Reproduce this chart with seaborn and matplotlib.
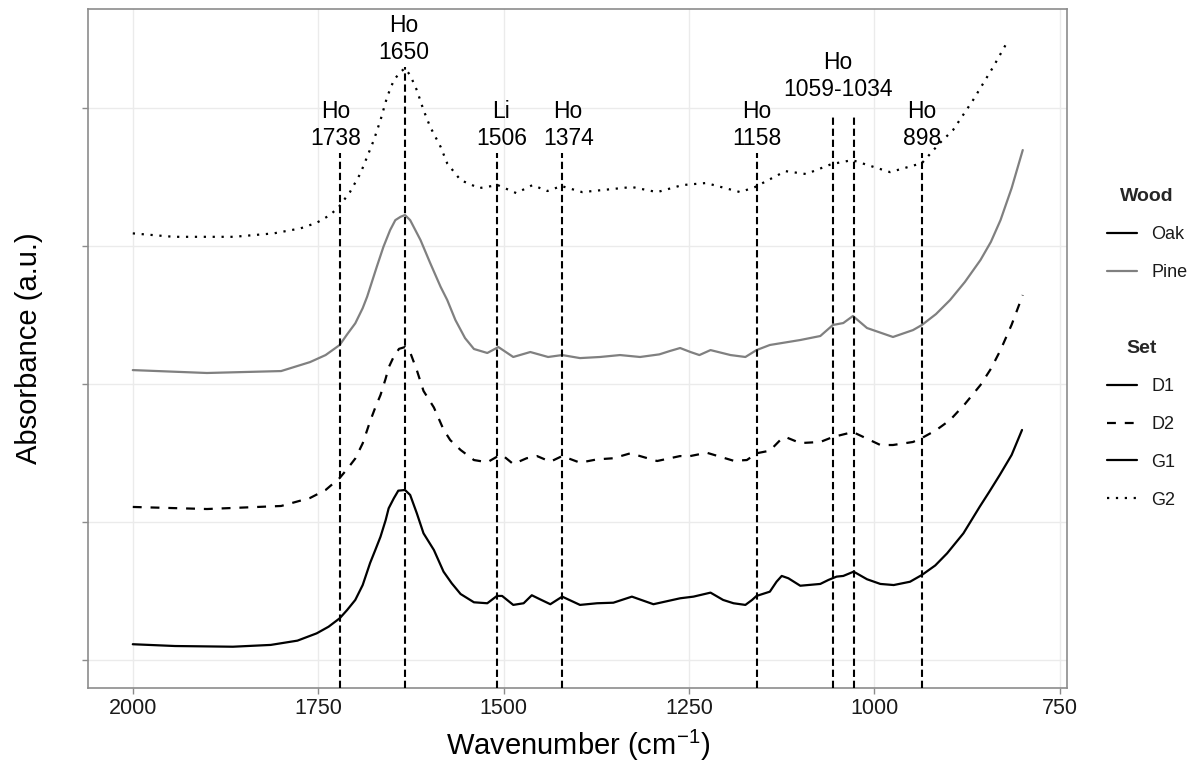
import numpy as np
import pandas as pd
import matplotlib
matplotlib.use("Agg")
import matplotlib.pyplot as plt
import seaborn as sns
from matplotlib.lines import Line2D

# ---------------- data ----------------
# Oak, set D1 (bottom, solid black)
wn_d1 = [2000, 1943, 1865, 1814, 1778, 1752, 1736, 1721, 1711, 1700, 1690, 1680,
         1673, 1666, 1659, 1655, 1648, 1642, 1633, 1626, 1617, 1608, 1594, 1581,
         1570, 1558, 1540, 1522, 1509, 1502, 1487, 1473, 1462, 1451, 1437, 1421,
         1397, 1374, 1352, 1327, 1298, 1262, 1244, 1221, 1204, 1190, 1174, 1165,
         1159, 1141, 1132, 1125, 1116, 1100, 1073, 1062, 1051, 1042, 1028, 1010,
         992, 974, 952, 936, 918, 902, 880, 858, 845, 831, 815, 801]
abs_d1 = [0.114, 0.101, 0.096, 0.109, 0.140, 0.193, 0.241, 0.302, 0.362, 0.435,
          0.543, 0.703, 0.797, 0.893, 1.014, 1.099, 1.172, 1.227, 1.232, 1.196,
          1.063, 0.918, 0.797, 0.640, 0.556, 0.478, 0.418, 0.411, 0.464, 0.464,
          0.399, 0.411, 0.469, 0.440, 0.404, 0.459, 0.399, 0.411, 0.415, 0.459,
          0.404, 0.447, 0.459, 0.488, 0.435, 0.411, 0.399, 0.435, 0.464, 0.495,
          0.567, 0.609, 0.592, 0.538, 0.551, 0.580, 0.604, 0.609, 0.640, 0.585,
          0.551, 0.543, 0.567, 0.616, 0.685, 0.773, 0.918, 1.111, 1.220, 1.341,
          1.486, 1.667]

# Oak, set D2 (dashed black)
wn_d2 = [2000, 1900, 1800, 1761, 1740, 1721, 1710, 1700, 1690, 1680, 1673, 1666,
         1659, 1655, 1648, 1641, 1633, 1626, 1617, 1608, 1594, 1581, 1572, 1558,
         1540, 1522, 1509, 1502, 1487, 1469, 1455, 1437, 1421, 1397, 1374, 1352,
         1329, 1293, 1262, 1253, 1226, 1190, 1172, 1159, 1141, 1127, 1120, 1100,
         1073, 1056, 1029, 992, 975, 948, 936, 917, 898, 878, 857, 843, 830, 815,
         800]
abs_d2 = [1.109, 1.094, 1.116, 1.174, 1.232, 1.319, 1.39, 1.46, 1.57, 1.73,
          1.83, 1.92, 2.04, 2.12, 2.20, 2.255, 2.268, 2.23, 2.10, 1.95,
          1.83, 1.67, 1.594, 1.522, 1.449, 1.433, 1.473, 1.486, 1.420, 1.462,
          1.478, 1.437, 1.478, 1.430, 1.454, 1.462, 1.498, 1.442, 1.478, 1.473,
          1.502, 1.444, 1.449, 1.498, 1.517, 1.594, 1.616, 1.572, 1.580, 1.616,
          1.652, 1.558, 1.558, 1.580, 1.609, 1.665, 1.739, 1.855, 1.993, 2.110,
          2.246, 2.430, 2.645]

# Pine, set G1 (solid grey)
wn_g1 = [2000, 1900, 1800, 1761, 1740, 1721, 1711, 1700, 1690, 1684, 1671, 1662,
         1653, 1646, 1639, 1633, 1626, 1612, 1599, 1585, 1576, 1565, 1552, 1540,
         1522, 1507, 1487, 1464, 1440, 1421, 1397, 1370, 1343, 1316, 1290, 1276,
         1262, 1248, 1236, 1221, 1194, 1174, 1159, 1141, 1100, 1073, 1056, 1042,
         1029, 1010, 975, 948, 936, 917, 898, 878, 857, 843, 830, 815, 800]
abs_g1 = [2.101, 2.080, 2.094, 2.159, 2.210, 2.283, 2.36, 2.44, 2.55, 2.633,
          2.850, 2.995, 3.116, 3.188, 3.212, 3.225, 3.188, 3.043, 2.877, 2.705,
          2.609, 2.464, 2.333, 2.254, 2.225, 2.268, 2.196, 2.232, 2.196, 2.210,
          2.188, 2.196, 2.210, 2.196, 2.215, 2.239, 2.261, 2.232, 2.210, 2.246,
          2.210, 2.196, 2.246, 2.283, 2.319, 2.348, 2.428, 2.442, 2.493, 2.406,
          2.341, 2.391, 2.428, 2.507, 2.609, 2.740, 2.899, 3.030, 3.188, 3.420,
          3.696]

# Oak, set G2 (dotted black)
wn_g2 = [2000, 1945, 1864, 1810, 1774, 1752, 1734, 1722, 1707, 1693, 1684, 1675,
         1666, 1657, 1648, 1639, 1633, 1626, 1617, 1608, 1599, 1585, 1576, 1558,
         1533, 1508, 1483, 1461, 1441, 1422, 1394, 1327, 1293, 1259, 1227, 1181,
         1161, 1120, 1092, 1058, 1030, 979, 936, 912, 894, 867, 840, 821]
abs_g2 = [3.092, 3.067, 3.067, 3.092, 3.128, 3.169, 3.225, 3.285, 3.393, 3.527,
          3.647, 3.768, 3.913, 4.082, 4.203, 4.263, 4.288, 4.239, 4.130, 3.986,
          3.864, 3.720, 3.599, 3.478, 3.420, 3.442, 3.384, 3.442, 3.399, 3.435,
          3.391, 3.428, 3.391, 3.442, 3.457, 3.391, 3.428, 3.543, 3.522, 3.594,
          3.623, 3.536, 3.601, 3.746, 3.841, 4.058, 4.297, 4.478]

woods = ["Oak", "Oak", "Pine", "Oak"]
sets = ["D1", "D2", "G1", "G2"]

# band markers
band_lines = [1721, 1633, 1509, 1421, 1159, 1056, 1027, 936]
band_tops = [3.674, 4.297, 3.674, 3.674, 3.674, 3.942, 3.942, 3.674]
band_groups = ["Ho", "Ho", "Li", "Ho", "Ho", "Ho", "Ho"]
band_names = ["1738", "1650", "1506", "1374", "1158", "1059-1034", "898"]
band_label_x = [1727, 1634, 1503, 1413, 1158, 1049, 936]
band_label_y = [3.696, 4.318, 3.696, 3.696, 3.696, 4.050, 3.696]

x_ticks = [2000, 1750, 1500, 1250, 1000, 750]
y_ticks = [0, 1, 2, 3, 4]

# ---------------- plotting ----------------
sns.set_theme(style="whitegrid")
plt.rcParams['font.family'] = ['Liberation Sans', 'DejaVu Sans']
plt.rcParams['mathtext.fontset'] = 'custom'
plt.rcParams['mathtext.rm'] = 'Liberation Sans'
plt.rcParams['mathtext.it'] = 'Liberation Sans:italic'

wood_colors = {"Oak": "black", "Pine": "#808080"}
set_styles = {"D1": "-", "D2": (0, (4, 4)), "G1": "-", "G2": (0, (1, 3))}

fig, ax = plt.subplots(figsize=(11.93, 7.65), dpi=100)
fig.subplots_adjust(left=0.074, right=0.8946, top=0.988, bottom=0.1007)

series = [(wn_d1, abs_d1), (wn_d2, abs_d2), (wn_g1, abs_g1), (wn_g2, abs_g2)]
for (x, y), wood, st in zip(series, woods, sets):
    df = pd.DataFrame({"Wavenumber": x, "Absorbance": y})
    sns.lineplot(data=df, x="Wavenumber", y="Absorbance", ax=ax, sort=False,
                 estimator=None, color=wood_colors[wood], linestyle=set_styles[st],
                 lw=1.6, solid_joinstyle="round")

ylo, yhi = -0.203, 4.717
ax.set_xlim(2060, 740)
ax.set_ylim(ylo, yhi)

ax.vlines(band_lines, ymin=ylo, ymax=band_tops, colors="black",
          linestyles=[(0, (3.5, 1.8))], lw=1.5, zorder=3)

for gx, gy, g, n in zip(band_label_x, band_label_y, band_groups, band_names):
    ax.text(gx, gy, f"{g}\n{n}", ha="center", va="bottom", fontsize=16.5,
            linespacing=1.25, color="black")

ax.set_xticks(x_ticks)
ax.set_yticks(y_ticks)
ax.set_yticklabels([])
ax.grid(True, color="#ebebeb", lw=1.0)
for sp in ax.spines.values():
    sp.set_visible(True)
    sp.set_color("#8c8c8c")
    sp.set_linewidth(1.2)
ax.tick_params(axis="both", length=4, width=1, color="#8c8c8c", direction="out",
               labelsize=15.5, labelcolor="#1a1a1a", bottom=True, left=True)

ax.set_xlabel("Wavenumber (cm$^{-1}$)", fontsize=21, labelpad=6, color="black")
ax.set_ylabel("Absorbance (a.u.)", fontsize=21, color="black")
ax.yaxis.set_label_coords(-0.046, 0.5)

wood_handles = [Line2D([], [], color=wood_colors[w], lw=1.6) for w in ["Oak", "Pine"]]
set_handles = [Line2D([], [], color="black", lw=1.6, linestyle=set_styles[s])
               for s in ["D1", "D2", "G1", "G2"]]
leg_kw = dict(loc="upper left", frameon=False, fontsize=13, handlelength=1.67,
              labelspacing=1.16, borderpad=0, borderaxespad=0, handletextpad=0.78,
              title_fontproperties={"weight": "bold", "size": 14})
leg1 = fig.legend(wood_handles, ["Oak", "Pine"], title="Wood",
                  bbox_to_anchor=(0.928, 0.754), **leg_kw)
leg2 = fig.legend(set_handles, ["D1", "D2", "G1", "G2"], title="Set",
                  bbox_to_anchor=(0.928, 0.5556), **leg_kw)
for lg in (leg1, leg2):
    for t in lg.get_texts():
        t.set_color("#1a1a1a")

fig.savefig("out.png", dpi=100)
